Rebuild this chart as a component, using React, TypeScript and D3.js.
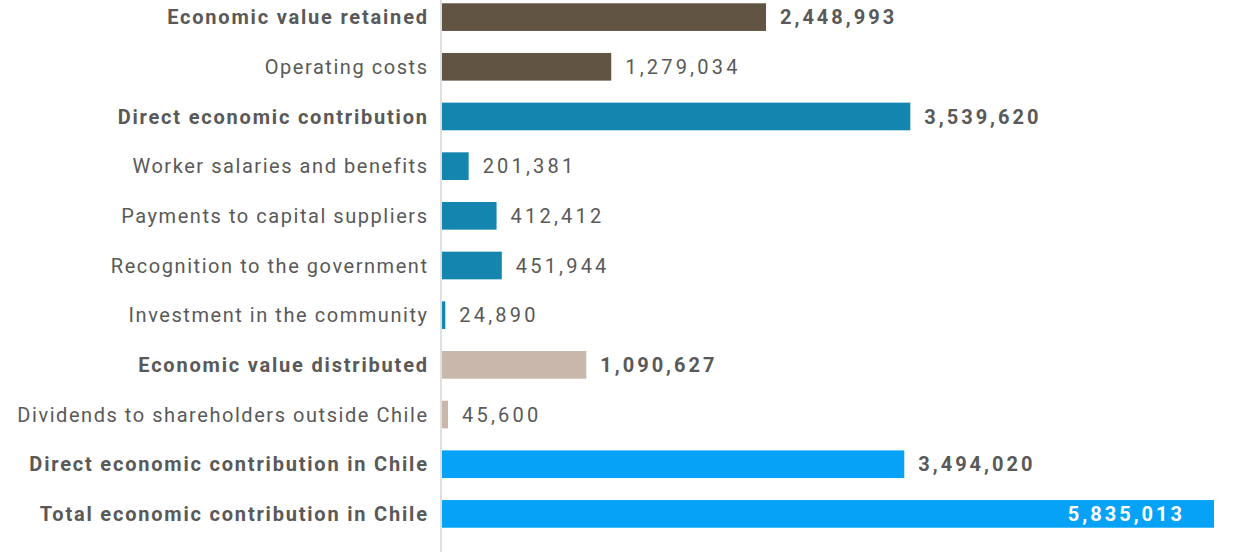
import React from "react";
import * as d3 from "d3";

const categories = [
  "Economic value retained",
  "Operating costs",
  "Direct economic contribution",
  "Worker salaries and benefits",
  "Payments to capital suppliers",
  "Recognition to the government",
  "Investment in the community",
  "Economic value distributed",
  "Dividends to shareholders outside Chile",
  "Direct economic contribution in Chile",
  "Total economic contribution in Chile",
];
const values = [2448993, 1279034, 3539620, 201381, 412412, 451944, 24890, 1090627, 45600, 3494020, 5835013];
const boldRows = [true, false, true, false, false, false, false, true, false, true, true];
const groups = ["retained", "retained", "direct", "direct", "direct", "direct", "direct", "distributed", "distributed", "chile", "chile"];

const colorMap: Record<string, string> = {
  retained: "#615443",
  direct: "#1485AE",
  distributed: "#C8B7AA",
  chile: "#05A2F8",
};

const W = 1245;
const H = 552;
const x0 = 442;

export default function App() {
  const x = d3.scaleLinear().domain([0, 5835013]).range([x0, 1214]);
  const y = d3.scaleBand<number>().domain(d3.range(categories.length)).range([0, 531]).paddingInner(0.443).paddingOuter(0.066);
  const fmt = d3.format(",");
  const font = "Roboto, 'DejaVu Sans', sans-serif";
  return (
    <svg width={W} height={H} style={{ position: "absolute", left: 0, top: 0, background: "#fff" }}>
      <line x1={441} x2={441} y1={0} y2={H} stroke="#d6d6d6" strokeWidth={1.5} />
      {categories.map((c, i) => {
        const yy = y(i)!;
        const bw = y.bandwidth();
        const cy = yy + bw / 2;
        const w = x(values[i]) - x0;
        const inside = i === categories.length - 1;
        const lsLabel = boldRows[i] ? 1.8 : 1.55;
        const lsNum = boldRows[i] ? 3.0 : 3.2;
        return (
          <g key={c}>
            <rect x={x0} y={yy} width={w} height={bw} fill={colorMap[groups[i]]} />
            <text
              x={427 + lsLabel}
              y={cy}
              dy="0.36em"
              textAnchor="end"
              fontFamily={font}
              fontSize={20}
              letterSpacing={lsLabel}
              fontWeight={boldRows[i] ? 700 : 400}
              fill="#595959"
            >
              {c}
            </text>
            <text
              x={inside ? x(values[i]) - 32 + lsNum : x(values[i]) + 14}
              y={cy}
              dy="0.36em"
              textAnchor={inside ? "end" : "start"}
              fontFamily={font}
              fontSize={20}
              letterSpacing={lsNum}
              fontWeight={boldRows[i] ? 700 : 400}
              fill={inside ? "#ffffff" : "#595959"}
            >
              {fmt(values[i])}
            </text>
          </g>
        );
      })}
    </svg>
  );
}
